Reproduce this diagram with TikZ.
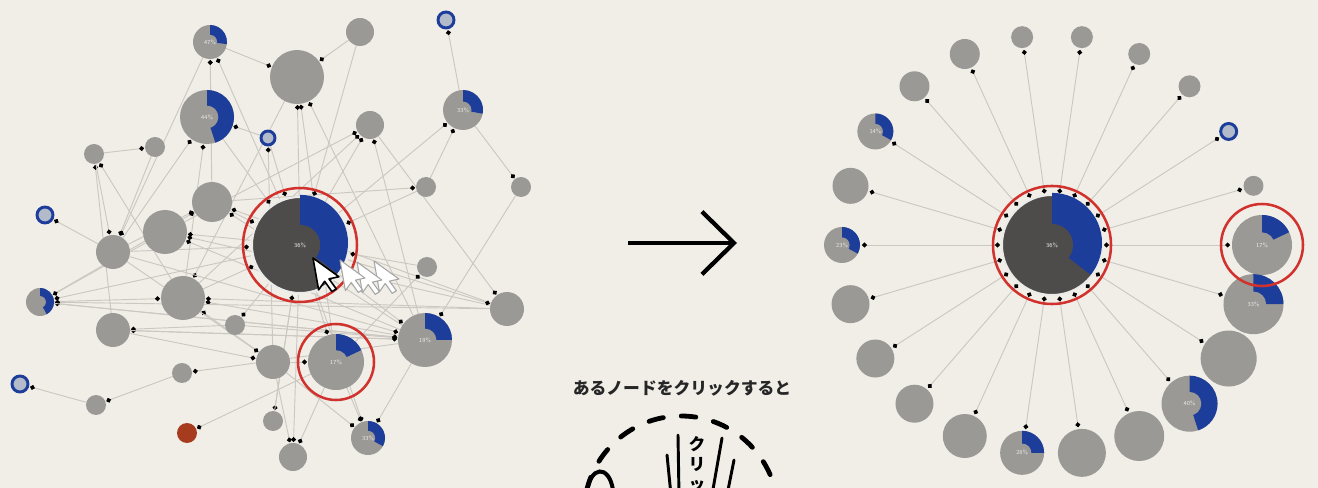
\documentclass[tikz,border=0pt]{standalone}
\usepackage{fontspec}
\newfontfamily\jpfont{Noto Sans CJK JP}
\usetikzlibrary{arrows.meta}

\definecolor{paper}{HTML}{F1EEE8}
\definecolor{nodegray}{HTML}{9B9996}
\definecolor{hubgray}{HTML}{4E4C4A}
\definecolor{pieblue}{HTML}{1D3D9B}
\definecolor{ringred}{HTML}{D2322D}
\definecolor{linkgray}{HTML}{CBC8C2}
\definecolor{ringfill}{HTML}{B3BACA}
\definecolor{rust}{HTML}{A63B1E}

\pgfdeclarelayer{back}
\pgfdeclarelayer{links}
\pgfsetlayers{back,links,main}

\tikzset{
  sz/.style={minimum size=1.5pt*#1},
  gnode/.style={circle, fill=nodegray, inner sep=0pt, outer sep=0pt},
  ringnode/.style={circle, fill=ringfill, draw=pieblue, line width=2.2pt, inner sep=0pt},
  hubnode/.style={circle, fill=hubgray, draw=white!80!nodegray, line width=1.5pt, inner sep=0pt, outer sep=1.6pt},
  pcttext/.style={font=\sffamily\fontsize{4.5}{5}\selectfont, text=white!80!nodegray, inner sep=0pt},
  link/.style={draw=linkgray, line width=0.7pt, shorten >=0.8pt, -{Circle[length=3.6pt,black]}},
  spoke/.style={draw=linkgray, line width=0.7pt, {Circle[length=3.6pt,black]}-{Circle[length=3.6pt,black]}, shorten >=1.5pt},
  redring/.style={draw=ringred, line width=1.9pt},
  bigarrow/.style={line width=3.2pt, -{Straight Barb[length=24pt,width=47pt]}},
  dashring/.style={line width=3.6pt, line cap=round, dash pattern=on 11pt off 13.5pt},
  clickline/.style={line width=2.2pt, line cap=round},
  ghost/.style={draw=black!35, fill=white, line width=0.8pt, line join=round},
  pointer/.style={draw=black, fill=white, line width=1.2pt, line join=round}
}

% blue share of a node: sector from the top, clockwise, with a hole
\newcommand{\blueshare}[4][nodegray]{%
  \fill[pieblue] (#2.center) -- (#2.north) arc[start angle=-90, delta angle=360*#4, radius=#3] -- cycle;
  \fill[#1] (#2.center) circle[radius=0.42*#3];
}
\newcommand{\pctlabel}[2]{\node[pcttext] (#1pct) at (#1) {#2\%};}

\begin{document}
\begin{tikzpicture}[x=0.75pt,y=0.75pt,yscale=-1]
\useasboundingbox (0,0) rectangle (1318,488);
\begin{pgfonlayer}{back}
\fill[paper] (0,0) rectangle (1318,488);
\end{pgfonlayer}

% left network
\node[gnode, sz=17] (na) at (210,42) {};
\node[gnode, sz=27] (nb) at (297,77) {};
\node[gnode, sz=27] (nc) at (207,117) {};
\node[ringnode, sz=7] (nd) at (268,138) {};
\node[gnode, sz=10] (ne) at (94,154) {};
\node[gnode, sz=10] (nf) at (155,147) {};
\node[gnode, sz=20] (ng) at (212,202) {};
\node[ringnode, sz=8] (nh) at (45,215) {};
\node[gnode, sz=22] (ni) at (165,232) {};
\node[gnode, sz=17] (nj) at (113,252) {};
\node[gnode, sz=14] (nk) at (360,32) {};
\node[ringnode, sz=8] (nl) at (446,20) {};
\node[gnode, sz=14] (nm) at (370,125) {};
\node[gnode, sz=20] (nn) at (463,110) {};
\node[gnode, sz=10] (no) at (426,187) {};
\node[gnode, sz=10] (np) at (521,187) {};
\node[hubnode, sz=48] (nhub) at (300,245) {};
\node[gnode, sz=22] (nq) at (183,298) {};
\node[gnode, sz=14] (nr) at (40,302) {};
\node[gnode, sz=17] (ns) at (113,330) {};
\node[gnode, sz=10] (nt) at (235,325) {};
\node[gnode, sz=17] (nu) at (273,362) {};
\node[gnode, sz=10] (nv) at (182,373) {};
\node[ringnode, sz=8] (nw) at (20,384) {};
\node[gnode, sz=10] (nx) at (96,405) {};
\node[gnode, sz=10, fill=rust] (ny) at (187,433) {};
\node[gnode, sz=10] (nz) at (273,421) {};
\node[gnode, sz=14] (naa) at (293,457) {};
\node[gnode, sz=10] (nbb) at (427,267) {};
\node[gnode, sz=17] (ncc) at (507,309) {};
\node[gnode, sz=27] (ndd) at (425,340) {};
\node[gnode, sz=28] (nee) at (336,362) {};
\node[gnode, sz=17] (nff) at (368,438) {};

\blueshare{na}{17}{0.27} \pctlabel{na}{47}
\blueshare{nc}{27}{0.45} \pctlabel{nc}{44}
\blueshare{nn}{20}{0.28} \pctlabel{nn}{33}
\blueshare{nr}{14}{0.42}
\blueshare[hubgray]{nhub}{48}{0.36} \pctlabel{nhub}{36}
\blueshare{ndd}{27}{0.25} \pctlabel{ndd}{19}
\blueshare{nee}{28}{0.18} \pctlabel{nee}{17}
\blueshare{nff}{17}{0.33} \pctlabel{nff}{33}

\begin{pgfonlayer}{links}
\foreach \a/\b in {na/nb, nk/nb, nn/nl, nn/np, no/nn, nhub/nn, ng/no, nd/nc,
  nhub/nb, ndd/nb, nee/nb, ni/nm, nhub/nm, nq/nm, ndd/nm,
  nj/nc, nq/nc, ng/na, nhub/na, nu/nd, ns/ne, nq/ne, ne/nf,
  nj/ng, nr/ng, ndd/ng, ncc/ng, nj/nh, nhub/ni, ncc/ni, ndd/ni,
  ne/nj, nf/nj, na/nj, nb/nq, nr/nq, ndd/nq, ncc/nq, nu/nq,
  ni/nr, ncc/nr, ndd/nr, nhub/nr, nt/ns, ndd/ns, nhub/nt,
  ns/nu, nj/nu, ndd/nv, nv/nx, nx/nw, nee/ny, nhub/nz,
  nhub/naa, nu/naa, nee/naa, nee/nbb, nhub/ncc, nm/ncc,
  nhub/ndd, ns/ndd, nr/ndd, nt/ndd, nj/ndd, np/ndd,
  nhub/nee, nu/nee, nhub/nff, nu/nff, nee/nff, ndd/nff,
  nd/nhub, no/nhub, nj/nhub, nq/nhub, nz/nhub, nbb/nhub, nc/nhub, ng/nhub, nk/nhub}
  \draw[link] (\a) -- (\b);
\end{pgfonlayer}

\draw[redring] (nhub.center) circle[radius=57];
\draw[redring] (nee.center) circle[radius=38];

% click cursor with its trail
\foreach \tx/\ty in {374/261, 357/262, 340/260}
  \path[ghost, shift={(\tx,\ty)}, rotate=-10, scale=1.3]
    (0,0) -- (0,24) -- (5.5,18.5) -- (9.5,27) -- (13,25.5) -- (9,17.3) -- (16.5,17) -- cycle;
\path[pointer, shift={(313,258)}, rotate=-10, scale=1.35]
  (0,0) -- (0,24) -- (5.5,18.5) -- (9.5,27) -- (13,25.5) -- (9,17.3) -- (16.5,17) -- cycle;

% arrow and caption
\coordinate (arrowtail) at (628,243);
\coordinate (arrowtip) at (737,243);
\draw[bigarrow] (arrowtail) -- (arrowtip);
\node[font=\jpfont\bfseries\fontsize{12.6}{15}\selectfont, text=black!85] (caption) at (682,388) {あるノードをクリックすると};

\draw[dashring] (681,513) circle[radius=97];
\draw[line width=3pt, line cap=round] (587,492) .. controls (590,466) and (609,464) .. (613,490);
\node[font=\jpfont\bfseries\fontsize{12.5}{15}\selectfont, align=center, anchor=north, inner sep=0pt] (clicktext) at (697,436) {ク\\リ\\ッ\\ク};
\draw[clickline] (678,435) -- (679,495);
\draw[clickline] (667,455) -- (671,495);
\draw[clickline] (722,438) -- (712,495);
\draw[clickline] (734,460) -- (727,495);

% radial layout
\node[hubnode, sz=50] (rhub) at (1052,245) {};
\foreach \r/\kind [count=\k from 0] in {18/gnode, 18/gnode, 18/gnode, 15/gnode, 15/gnode, 11/gnode,
  11/gnode, 11/gnode, 11/gnode, 8/ringnode, 10/gnode, 30/gnode, 30/gnode, 28/gnode, 28/gnode,
  25/gnode, 24/gnode, 22/gnode, 22/gnode, 19/gnode, 19/gnode, 19/gnode}
  \node[\kind, sz=\r] (o\k) at ({1052+210*cos(\k*360/22-180)},{245+210*sin(\k*360/22-180)}) {};

\blueshare[hubgray]{rhub}{50}{0.36} \pctlabel{rhub}{36}
\blueshare{o0}{18}{0.33} \pctlabel{o0}{23}
\blueshare{o2}{18}{0.33} \pctlabel{o2}{14}
\blueshare{o11}{30}{0.18} \pctlabel{o11}{17}
\blueshare{o12}{30}{0.25} \pctlabel{o12}{33}
\blueshare{o14}{28}{0.45} \pctlabel{o14}{40}
\blueshare{o17}{22}{0.25} \pctlabel{o17}{28}

\begin{pgfonlayer}{links}
\foreach \k in {0,...,21}
  \draw[spoke] (rhub) -- (o\k);
\end{pgfonlayer}

\draw[redring] (rhub.center) circle[radius=59];
\draw[redring] (o11.center) circle[radius=41];

\end{tikzpicture}
\end{document}
